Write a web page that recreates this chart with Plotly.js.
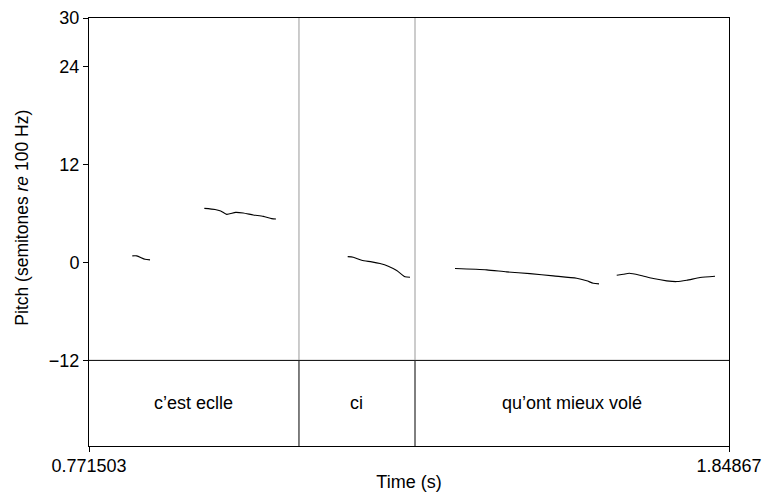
<!DOCTYPE html>
<html>
<head>
<meta charset="utf-8">
<script src="https://cdn.plot.ly/plotly-3.0.1.min.js"></script>
<style>html,body{margin:0;padding:0;background:#fff;}#chart{width:768px;height:500px;}</style>
</head>
<body>
<div id="chart"></div>
<script>
// Pitch contour segments (time in s, pitch in semitones re 100 Hz)
const seg1Time = [0.8444, 0.8518, 0.8658, 0.8742];
const seg1Pitch = [0.82, 0.82, 0.40, 0.33];
const seg2Time = [0.9656, 0.9836, 0.9932, 1.0033, 1.0184, 1.0312, 1.0480, 1.0649, 1.0790, 1.0862];
const seg2Pitch = [6.65, 6.52, 6.33, 5.91, 6.16, 6.08, 5.84, 5.67, 5.39, 5.35];
const seg3Time = [1.2069, 1.2163, 1.2305, 1.2473, 1.2613, 1.2752, 1.2894, 1.3034, 1.3118];
const seg3Pitch = [0.73, 0.65, 0.28, 0.09, -0.12, -0.45, -0.98, -1.75, -1.80];
const seg4Time = [1.3875, 1.4409, 1.4745, 1.5137, 1.5530, 1.5923, 1.6092, 1.6203, 1.6299];
const seg4Pitch = [-0.73, -0.89, -1.14, -1.35, -1.63, -1.92, -2.24, -2.53, -2.61];
const seg5Time = [1.6597, 1.6708, 1.6809, 1.6989, 1.7213, 1.7438, 1.7606, 1.7775, 1.7999, 1.8251];
const seg5Pitch = [-1.55, -1.43, -1.31, -1.55, -1.96, -2.24, -2.33, -2.17, -1.84, -1.68];

// Time axis
const timeStart = 0.771503;
const timeEnd = 1.84867;
const timeTickText = ['0.771503', '1.84867'];

// Pitch axis
const pitchTicks = [-12, 0, 12, 24, 30];
const pitchTop = 30;
const pitchBottom = -12;
const tierBottom = -22.5;
const pitchTitle = 'Pitch (semitones <i>re</i> 100 Hz)';

// Text tier
const tierLabels = ['c\u2019est eclle', 'ci', 'qu\u2019ont mieux vol\u00e9'];
const tierBoundaries = [1.1249, 1.3202];

const FONT = 'Liberation Sans, Arial, Helvetica, sans-serif';

const segs = [[seg1Time, seg1Pitch], [seg2Time, seg2Pitch], [seg3Time, seg3Pitch], [seg4Time, seg4Pitch], [seg5Time, seg5Pitch]];
const traces = segs.map(s => ({
  x: s[0], y: s[1], mode: 'lines', type: 'scatter',
  line: {color: '#000', width: 1.1, shape: 'spline', smoothing: 0.6},
  hoverinfo: 'skip', showlegend: false
}));

const shapes = [];
shapes.push({type: 'line', xref: 'x', yref: 'y', x0: timeStart, x1: timeEnd, y0: pitchBottom, y1: pitchBottom, line: {color: '#000', width: 1}});
tierBoundaries.forEach(b => {
  shapes.push({type: 'line', xref: 'x', yref: 'y', x0: b, x1: b, y0: pitchBottom, y1: pitchTop, line: {color: '#999', width: 1}});
  shapes.push({type: 'line', xref: 'x', yref: 'y', x0: b, x1: b, y0: tierBottom, y1: pitchBottom, line: {color: '#000', width: 1}});
});

const edges = [timeStart].concat(tierBoundaries, [timeEnd]);
const annotations = tierLabels.map((t, i) => ({
  x: (edges[i] + edges[i + 1]) / 2, y: (pitchBottom + tierBottom) / 2,
  xref: 'x', yref: 'y', text: t, showarrow: false,
  font: {family: FONT, size: 18, color: '#000'}
}));
// y-axis title, placed as in the reference
annotations.push({
  x: -0.105, y: 0.533, xref: 'paper', yref: 'paper', text: pitchTitle, textangle: -90,
  showarrow: false, xanchor: 'center', yanchor: 'middle',
  font: {family: FONT, size: 17.5, color: '#000'}
});

const layout = {
  width: 768, height: 500,
  margin: {l: 89, r: 39, t: 18, b: 54},
  paper_bgcolor: '#fff', plot_bgcolor: '#fff',
  font: {family: FONT, size: 18, color: '#000'},
  showlegend: false,
  xaxis: {
    range: [timeStart, timeEnd], tickmode: 'array', tickvals: [timeStart, timeEnd], ticktext: timeTickText,
    ticks: 'outside', ticklen: 5, tickcolor: '#000', tickwidth: 1, ticklabelstandoff: -2,
    showline: true, linecolor: '#000', linewidth: 1, mirror: true,
    showgrid: false, zeroline: false,
    tickfont: {family: FONT, size: 18, color: '#000'},
    title: {text: 'Time (s)', font: {family: FONT, size: 18, color: '#000'}, standoff: 0}
  },
  yaxis: {
    range: [tierBottom, pitchTop], tickmode: 'array', tickvals: pitchTicks,
    ticks: 'outside', ticklen: 5, tickcolor: '#000', tickwidth: 1,
    showline: true, linecolor: '#000', linewidth: 1, mirror: true,
    showgrid: false, zeroline: false,
    tickfont: {family: FONT, size: 18, color: '#000'}
  },
  shapes: shapes,
  annotations: annotations
};

Plotly.newPlot('chart', traces, layout, {displayModeBar: false, staticPlot: true});
</script>
</body>
</html>
